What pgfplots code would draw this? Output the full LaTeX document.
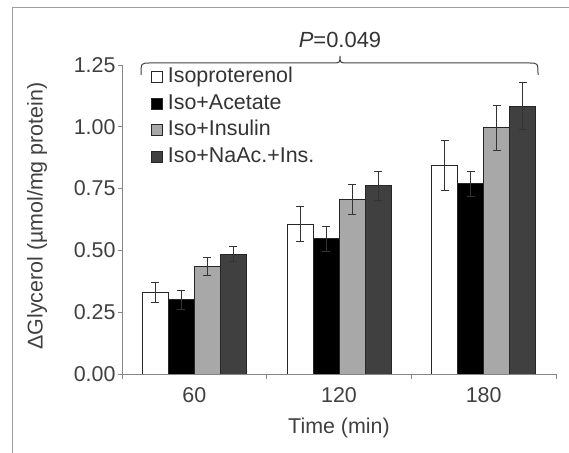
\documentclass[border=0pt]{standalone}
\usepackage{fontspec}
\setmainfont{Liberation Sans}
\usepackage{pgfplots}
\pgfplotsset{compat=1.18}
\definecolor{ax}{HTML}{868686}
\definecolor{g1}{HTML}{A8A8A8}
\definecolor{g2}{HTML}{404040}
\newcommand{\ff}{\fontsize{21.5}{25}\selectfont}
\begin{document}
\begin{tikzpicture}[x=1bp,y=1bp]
\useasboundingbox (0,0) rectangle (569,453);
\draw[color=ax!80, line width=1bp] (12,0) -- (12,445) -- (569,445);
\begin{axis}[
  at={(122bp,79bp)}, anchor=south west,
  scale only axis, width=434bp, height=309bp,
  xmin=0.5, xmax=3.5, ymin=0, ymax=1.25,
  axis x line*=bottom, axis y line*=left,
  axis line style={ax, line width=0.8bp, -},
  ytick={0,0.25,0.5,0.75,1,1.25},
  yticklabel style={xshift=1bp, /pgf/number format/.cd, fixed, fixed zerofill, precision=2},
  /pgf/number format/assume math mode=true,
  xtick={1,2,3}, xticklabels={60,120,180},
  major x tick style={draw=none},
  minor xtick={0.5,1.5,2.5,3.5},
  tick align=outside, major tick length=4bp, minor tick length=5bp,
  tick style={ax, line width=0.8bp},
  tick label style={font=\ff, text=black!75},
  xticklabel style={yshift=-6bp},
  every axis y label/.style={at={(rel axis cs:0,0.511)}, xshift=-85bp, rotate=90, anchor=center, font=\ff, text=black!75},
  every axis x label/.style={at={(rel axis cs:0.5,0)}, yshift=-54bp, anchor=center, font=\ff, text=black!75},
  ylabel={ΔGlycerol (µmol/mg protein)},
  xlabel={Time (min)},
  ybar=0pt, bar width=26bp,
  every axis plot/.append style={draw=black!85, line width=0.8bp,
    error bars/y dir=both, error bars/y explicit,
    error bars/error bar style={black!80, line width=0.8bp},
    error bars/error mark options={rotate=90, mark size=4bp, black!80, line width=0.8bp}},
  legend style={draw=none, fill=none, at={(0.067,0.992)}, anchor=north west,
    font=\ff, text=black!80, row sep=7.5bp, inner sep=0pt,
    nodes={inner sep=0pt, text height=15bp, text depth=4bp},
    /tikz/every odd column/.append style={column sep=5bp}},
  legend cell align=left,
  legend image code/.code={\draw[#1, draw=black!85, line width=0.6bp] (0bp,-5.5bp) rectangle (11bp,5.5bp);},
]
\addplot[fill=white] coordinates {(1,0.33) +- (0,0.04) (2,0.607) +- (0,0.07) (3,0.843) +- (0,0.10)};
\addplot[fill=black] coordinates {(1,0.30) +- (0,0.04) (2,0.547) +- (0,0.05) (3,0.769) +- (0,0.05)};
\addplot[fill=g1] coordinates {(1,0.435) +- (0,0.038) (2,0.707) +- (0,0.06) (3,0.996) +- (0,0.09)};
\addplot[fill=g2] coordinates {(1,0.485) +- (0,0.03) (2,0.761) +- (0,0.057) (3,1.084) +- (0,0.095)};
\legend{Isoproterenol, Iso+Acetate, Iso+Insulin, Iso+NaAc.+Ins.}
\end{axis}
\draw[black!75, line width=1bp] (141,378) .. controls (141,390) .. (150,390) -- (332,390) .. controls (340,390) .. (340,397) .. controls (340,390) .. (348,390) -- (529,390) .. controls (538,390) .. (538,378);
\node[font=\fontsize{22}{26}\selectfont, text=black!80] at (340,413) {\textit{P}=0.049};
\end{tikzpicture}
\end{document}
